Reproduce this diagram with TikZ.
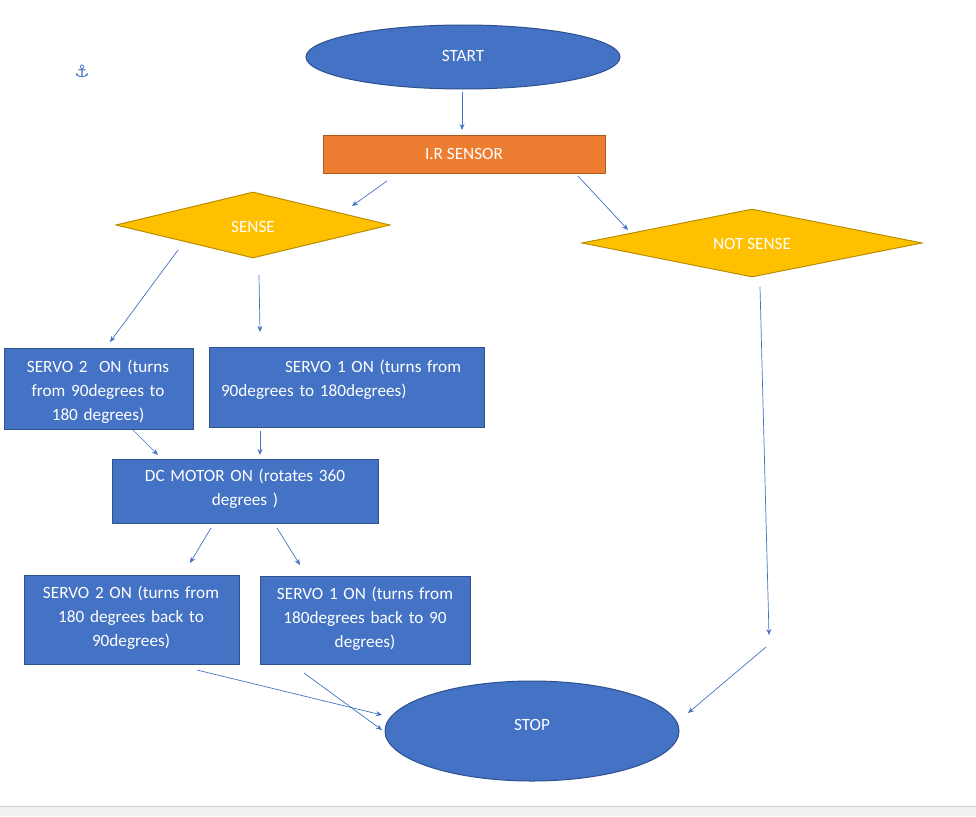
\documentclass[tikz,border=0pt]{standalone}
\usepackage{fontspec}
\setmainfont{Carlito}
\usetikzlibrary{shapes.geometric,arrows.meta}
\definecolor{fillb}{HTML}{4472C4}
\definecolor{edgeb}{HTML}{2F528F}
\definecolor{orng}{HTML}{ED7D31}
\definecolor{edgeo}{HTML}{AE5A21}
\definecolor{gold}{HTML}{FFC000}
\definecolor{edgeg}{HTML}{BC8C00}
\begin{document}
\begin{tikzpicture}[x=1pt,y=-1pt,
  txt/.style={text=white,font=\fontsize{17.2}{24}\selectfont,align=center},
  bbox/.style={draw=edgeb,line width=1pt,fill=fillb,anchor=north west,inner sep=0pt},
  ell/.style={ellipse,draw=edgeb,line width=1pt,fill=fillb,inner sep=0pt},
  dia/.style={diamond,draw=edgeg,line width=1pt,fill=gold,inner sep=0pt},
  arr/.style={draw=fillb,line width=0.7pt,-{Stealth[length=6pt,width=5pt]}}]
\useasboundingbox (0,0) rectangle (976,816);
\fill[white] (0,0) rectangle (976,816);
\fill[gray!12] (0,806) rectangle (976,816);
\draw[gray!40] (0,806) -- (976,806);
\node[ell,minimum width=314pt,minimum height=64pt] (start) at (463,57) {};
\node[txt] at (463,56) {START};
\node[draw=edgeo,line width=1pt,fill=orng,minimum width=282pt,minimum height=38pt] (ir) at (464,154) {};
\node[txt] at (464,154) {I.R SENSOR};
\node[dia,minimum width=274pt,minimum height=66pt,aspect=4] (sense) at (253,225) {};
\node[txt] at (253,227) {SENSE};
\node[dia,minimum width=340pt,minimum height=68pt,aspect=5] (nsense) at (752,243) {};
\node[txt] at (752,244) {NOT SENSE};
\node[bbox,minimum width=189pt,minimum height=81pt] (s2) at (4,348) {};
\node[txt,text width=185pt] at (98,392) {SERVO 2\ \ ON (turns\\from 90degrees to\\180 degrees)};
\node[bbox,minimum width=275pt,minimum height=80pt] (s1) at (209,347) {};
\node[txt,text width=270pt,align=left] at (353,380) {\hspace*{67pt}SERVO 1 ON (turns from\\\hspace*{3pt}90degrees to 180degrees)};
\node[bbox,minimum width=266pt,minimum height=64pt] (dc) at (112,459) {};
\node[txt,text width=260pt] at (245,489) {DC MOTOR ON (rotates 360\\degrees )};
\node[bbox,minimum width=215pt,minimum height=89pt] (b2) at (24,575) {};
\node[txt,text width=210pt] at (131,618) {SERVO 2 ON (turns from\\180 degrees back to\\90degrees)};
\node[bbox,minimum width=210pt,minimum height=88pt] (b1) at (260,576) {};
\node[txt,text width=205pt] at (365,619) {SERVO 1 ON (turns from\\180degrees back to 90\\degrees)};
\node[ell,minimum width=294pt,minimum height=100pt] (stop) at (532,731) {};
\node[txt] at (532,725) {STOP};
\node[text=fillb,font=\fontspec{DejaVu Sans}\fontsize{17}{17}\selectfont] (anc) at (82,71) {⚓};
\coordinate (a1) at (462,92); \coordinate (a2) at (462,130);
\coordinate (b1s) at (387,181); \coordinate (b1e) at (352,206);
\coordinate (c1) at (578,176); \coordinate (c2) at (628,230);
\coordinate (d1) at (178,250); \coordinate (d2) at (110,342);
\coordinate (e1) at (259,275); \coordinate (e2) at (260,332);
\coordinate (f1) at (133,430); \coordinate (f2) at (158,455);
\coordinate (g1) at (260,431); \coordinate (g2) at (260,455);
\coordinate (h1) at (211,528); \coordinate (h2) at (190,563);
\coordinate (i1) at (277,528); \coordinate (i2) at (300,565);
\coordinate (j1) at (197,670); \coordinate (j2) at (382,715);
\coordinate (k1) at (304,673); \coordinate (k2) at (382,730);
\coordinate (l1) at (760,287); \coordinate (l2) at (769,635);
\coordinate (m1) at (766,647); \coordinate (m2) at (688,713);
\foreach \p/\q in {a1/a2,b1s/b1e,c1/c2,d1/d2,e1/e2,f1/f2,g1/g2,h1/h2,i1/i2,j1/j2,k1/k2,l1/l2,m1/m2}
  \draw[arr] (\p) -- (\q);
\end{tikzpicture}
\end{document}
